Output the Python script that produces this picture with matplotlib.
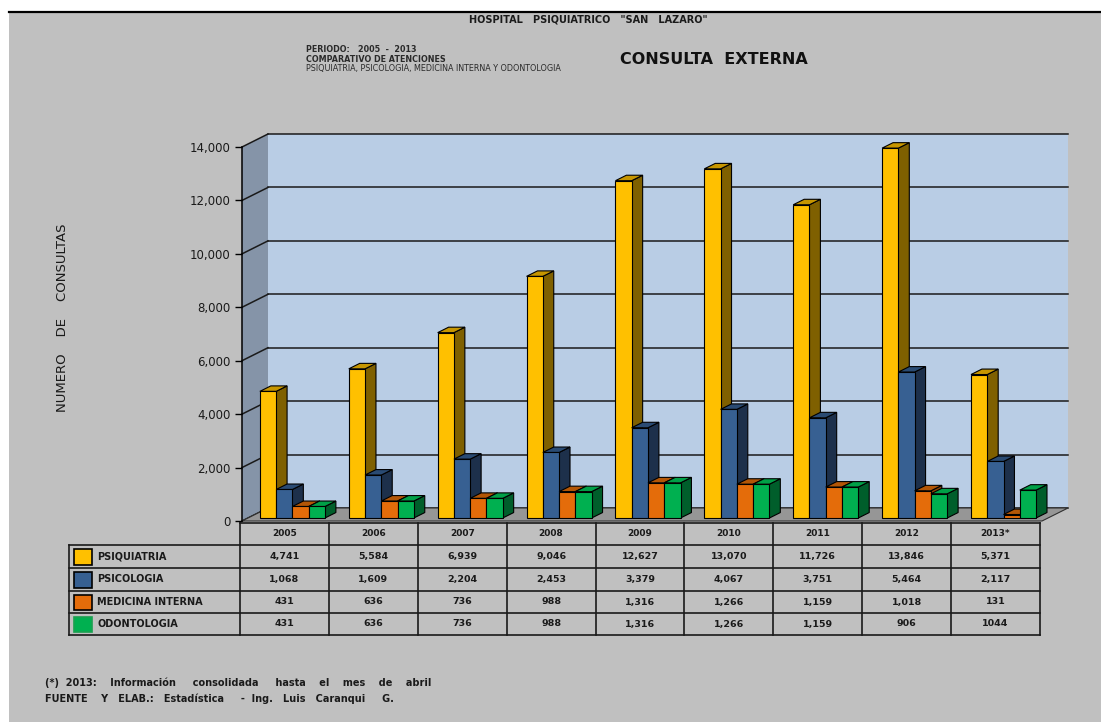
import matplotlib
matplotlib.use("Agg")
import matplotlib.pyplot as plt
from matplotlib.patches import Polygon, Rectangle
from matplotlib.ticker import FuncFormatter

# datos
years = ["2005", "2006", "2007", "2008", "2009", "2010", "2011", "2012", "2013*"]
series = ["PSIQUIATRIA", "PSICOLOGIA", "MEDICINA INTERNA", "ODONTOLOGIA"]
psiquiatria = [4741, 5584, 6939, 9046, 12627, 13070, 11726, 13846, 5371]
psicologia = [1068, 1609, 2204, 2453, 3379, 4067, 3751, 5464, 2117]
medicina = [431, 636, 736, 988, 1316, 1266, 1159, 1018, 131]
odontologia = [431, 636, 736, 988, 1316, 1266, 1159, 906, 1044]
values = [psiquiatria, psicologia, medicina, odontologia]

# colores: frente, lado, tapa
front_c = ["#ffc000", "#376092", "#e46c0a", "#00b050"]
side_c = ["#7f6000", "#1d304b", "#8c4306", "#005e2b"]
top_c = ["#c79600", "#2a4b73", "#b35606", "#00a047"]

W, H = 1101, 722
fig = plt.figure(figsize=(W / 100, H / 100), dpi=100)
fig.patch.set_facecolor("white")

# capa de fondo / textos en pixeles
bg = fig.add_axes([0, 0, 1, 1], zorder=0)
bg.set_xlim(0, W)
bg.set_ylim(H, 0)
bg.axis("off")
bg.add_patch(Rectangle((9, 12), W - 9, H - 12, facecolor="#c0c0c0", edgecolor="none"))
bg.plot([9, W], [12, 12], color="black", lw=1.6)

# ejes del grafico (plano frontal)
x0, x1, y0, y1 = 242, 1042, 521, 147
ax = fig.add_axes([x0 / W, (H - y0) / H, (x1 - x0) / W, (y0 - y1) / H], zorder=1)
ax.patch.set_visible(False)
ncat = len(years)
ymax = 14000
ax.set_xlim(0, ncat)
ax.set_ylim(0, ymax)

# profundidad en unidades de datos
dx = 26 / ((x1 - x0) / ncat)
dy = 13 / ((y0 - y1) / ymax)

# paredes
ax.add_patch(Polygon([(0, 0), (dx, dy), (dx, ymax + dy), (0, ymax)],
                     facecolor="#8594a8", edgecolor="none", clip_on=False, zorder=0))
ax.add_patch(Polygon([(dx, dy), (ncat + dx, dy), (ncat + dx, ymax + dy), (dx, ymax + dy)],
                     facecolor="#b9cde5", edgecolor="none", clip_on=False, zorder=0))
ax.add_patch(Polygon([(0, 0), (ncat, 0), (ncat + dx, dy), (dx, dy)],
                     facecolor="#969696", edgecolor="#303030", lw=0.8, clip_on=False, zorder=1))

ticks = list(range(0, ymax + 1, 2000))
for v in ticks:
    ax.plot([dx, ncat + dx], [v + dy, v + dy], color="#1a1a1a", lw=1.1, clip_on=False, zorder=0.5)
    ax.plot([0, dx], [v, v + dy], color="#1a1a1a", lw=1.1, clip_on=False, zorder=0.5)

# barras 3D
nser = len(series)
bw = 0.183
f0, f1 = 0.23, 0.65
z = 2
for i in range(ncat):
    gx = i + 0.5 - bw * nser / 2
    for s in range(nser):
        v = values[s][i]
        bx = gx + s * bw + f0 * dx
        b = f0 * dy
        t = v + b
        ddx = (f1 - f0) * dx
        ddy = (f1 - f0) * dy
        ax.add_patch(Polygon([(bx + bw, b), (bx + bw + ddx, b + ddy), (bx + bw + ddx, t + ddy), (bx + bw, t)],
                             facecolor=side_c[s], edgecolor="black", lw=0.8, clip_on=False, zorder=z))
        ax.add_patch(Polygon([(bx, t), (bx + bw, t), (bx + bw + ddx, t + ddy), (bx + ddx, t + ddy)],
                             facecolor=top_c[s], edgecolor="black", lw=0.8, clip_on=False, zorder=z))
        ax.bar(bx, v, width=bw, bottom=b, align="edge", color=front_c[s],
               edgecolor="black", lw=0.8, zorder=z + 0.5, clip_on=False)
        z += 1

for sp in ["top", "right", "bottom"]:
    ax.spines[sp].set_visible(False)
ax.spines["left"].set_linewidth(1.1)
ax.spines["left"].set_zorder(1)
ax.set_xticks([])
ax.set_yticks(ticks)
ax.yaxis.set_major_formatter(FuncFormatter(lambda v, p: f"{int(v):,}"))
ax.tick_params(axis="y", direction="out", length=5, width=1, pad=3, labelsize=8.5, labelcolor="#1a1a1a")

bg.text(62, 318, "NUMERO    DE    CONSULTAS", rotation=90, ha="center", va="center",
        fontsize=9.5, color="#1a1a1a")

# tabla de datos
colw = (x1 - x0) / ncat
tx0 = 240
rows_y = [523, 545, 568, 591, 613, 635]
lab_x = 69
lc = "#1a1a1a"
bg.plot([tx0, tx0 + ncat * colw], [rows_y[0], rows_y[0]], color=lc, lw=1.2)
for r in rows_y[1:]:
    bg.plot([lab_x, tx0 + ncat * colw], [r, r], color=lc, lw=1.2)
bg.plot([lab_x, lab_x], [rows_y[1], rows_y[-1]], color=lc, lw=1.2)
for c in range(ncat + 1):
    xc = tx0 + c * colw
    bg.plot([xc, xc], [rows_y[0], rows_y[-1]], color=lc, lw=1.2)

for c, yr in enumerate(years):
    bg.text(tx0 + (c + 0.5) * colw, (rows_y[0] + rows_y[1]) / 2, yr, ha="center", va="center",
            fontsize=6.5, fontweight="bold", color=lc)

for s in range(nser):
    ya, yb = rows_y[s + 1], rows_y[s + 2]
    ym = (ya + yb) / 2
    bg.add_patch(Rectangle((74, ya + 3.5), 18, yb - ya - 7, facecolor=front_c[s],
                           edgecolor="black" if s < 3 else "#1aa050", lw=1.2))
    bg.text(97, ym, series[s], ha="left", va="center", fontsize=7, fontweight="bold", color=lc)
    for c in range(ncat):
        v = values[s][c]
        txt = f"{v:,}" if not (s == 3 and c == ncat - 1) else str(v)
        bg.text(tx0 + (c + 0.5) * colw, ym, txt, ha="center", va="center",
                fontsize=6.8, fontweight="bold", color=lc)

# titulos
bg.text(588, 19, 'HOSPITAL   PSIQUIATRICO   "SAN   LAZARO"', ha="center", va="center",
        fontsize=7, fontweight="bold", color="#1a1a1a")
bg.text(306, 50, "PERIODO:   2005  -  2013", ha="left", va="center",
        fontsize=5.8, fontweight="bold", color="#2a2a2a")
bg.text(306, 59, "COMPARATIVO DE ATENCIONES", ha="left", va="center",
        fontsize=5.8, fontweight="bold", color="#2a2a2a")
bg.text(306, 68, "PSIQUIATRIA, PSICOLOGIA, MEDICINA INTERNA Y ODONTOLOGIA", ha="left", va="center",
        fontsize=5.8, color="#2a2a2a")
bg.text(620, 60, "CONSULTA  EXTERNA", ha="left", va="center",
        fontsize=11.5, fontweight="bold", color="#111111")

# notas
bg.text(45, 683, "(*)  2013:    Información     consolidada     hasta    el    mes    de    abril",
        ha="left", va="center", fontsize=7, fontweight="bold", color="#1a1a1a")
bg.text(45, 699, "FUENTE    Y   ELAB.:   Estadística     -  Ing.   Luis   Caranqui     G.",
        ha="left", va="center", fontsize=7, fontweight="bold", color="#1a1a1a")

fig.savefig("out.png", dpi=100, facecolor=fig.get_facecolor())
